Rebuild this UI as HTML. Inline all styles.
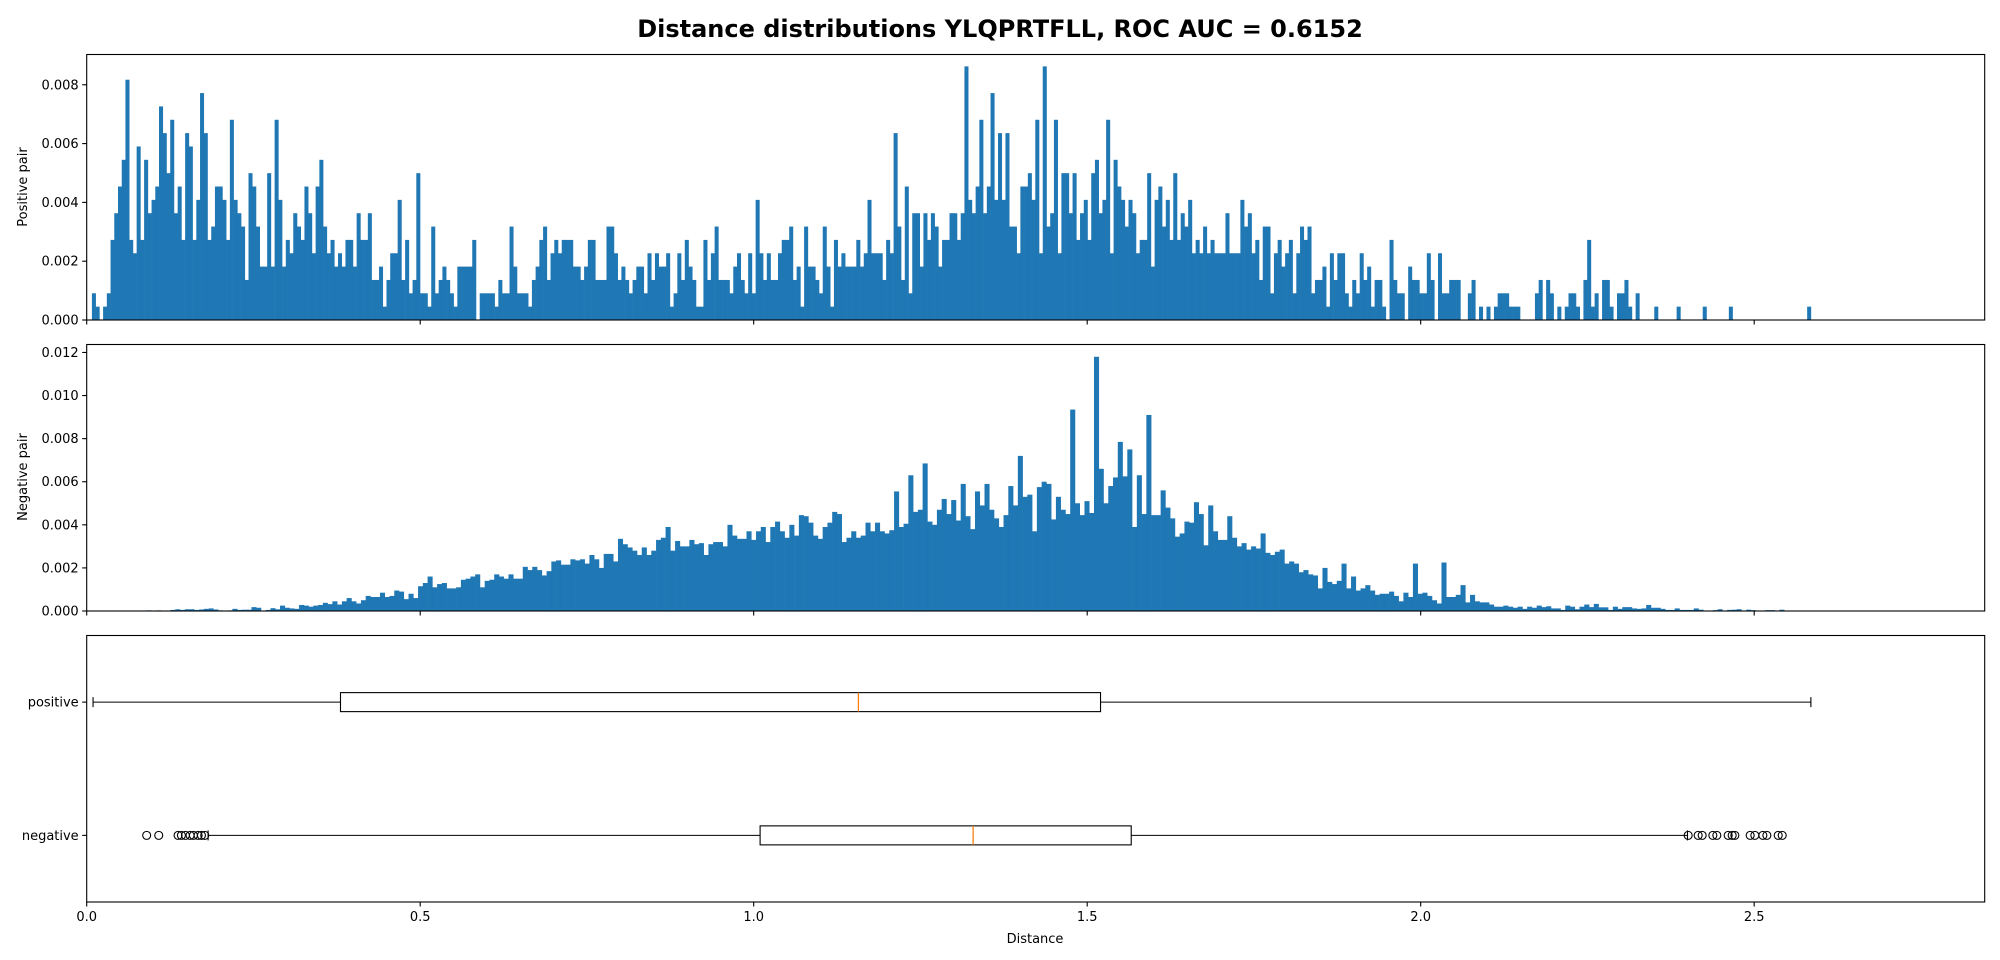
<!DOCTYPE html>
<html><head><meta charset="utf-8">
<style>
html,body{margin:0;padding:0;background:#fff;}
svg{display:block;font-family:"DejaVu Sans","Liberation Sans",sans-serif;}
</style></head>
<body>
<svg id="chart" width="2000" height="960" viewBox="0 0 2000 960" xmlns="http://www.w3.org/2000/svg">
<text x="1000" y="37" text-anchor="middle" font-size="24" font-weight="bold">Distance distributions YLQPRTFLL, ROC AUC = 0.6152</text>
<g id="top"></g>
<g id="mid"></g>
<g id="bot"></g>
<text x="1035" y="943" text-anchor="middle" font-size="13">Distance</text>
<text transform="translate(27,187) rotate(-90)" text-anchor="middle" font-size="13">Positive pair</text>
<text transform="translate(27,477) rotate(-90)" text-anchor="middle" font-size="13">Negative pair</text>
</svg>
<script>
// positive histogram counts (units of one sample density)
const posCounts = [2,1,0,1,2,6,8,10,12,18,6,5,13,6,12,8,9,10,16,14,11,15,8,10,6,14,13,6,9,17,14,6,7,10,10,9,6,15,9,8,7,3,11,10,7,4,4,11,4,15,9,4,6,5,8,7,6,10,8,5,10,12,7,5,6,4,5,4,6,6,4,8,6,6,8,3,3,4,1,3,5,5,9,3,6,2,3,11,2,2,1,7,2,3,4,3,2,1,4,4,4,4,6,0,2,2,2,2,1,3,2,2,7,4,2,2,2,1,3,4,6,7,3,5,6,5,6,6,6,4,4,3,4,6,6,3,3,3,7,7,5,3,4,3,2,3,4,4,2,5,3,5,4,4,5,1,2,5,3,6,4,3,1,1,
6,3,5,7,3,3,3,2,4,5,3,2,5,2,9,5,3,5,3,3,5,6,6,7,3,4,1,7,4,4,3,2,7,4,1,6,4,5,4,4,4,6,4,5,9,5,5,5,3,6,5,14,7,3,10,2,8,8,4,8,6,8,7,4,6,6,8,8,6,8,19,9,8,10,15,8,10,17,9,14,9,14,7,7,5,10,10,11,9,15,5,19,7,8,15,5,11,11,8,11,6,8,9,6,11,12,8,9,15,5,12,10,9,7,9,8,5,6,6,11,4,9,10,7,9,6,11,6,8,7,9,5,6,5,7,5,6,5,5,5,8,5,5,5,9,7,8,5,6,3,7,7,2,5,6,4,5,6,2,5,7,6,
7,2,3,
3,4,1,5,3,5,5,2,1,3,2,5,3,4,1,3,3,1,0,6,3,2,2,0,4,3,3,2,2,5,3,0,5,2,2,3,3,3,0,0,2,3,0,1,0,1,0,1,2,2,2,1,1,1,0,0,0,0,2,3,0,3,2,0,1,0,1,2,2,1,0,3,6,1,2,0,3,3,1,0,2,2,3,1,0,2,
0,0,0,0,1,0,0,0,0,0,1,0,0,0,0,0,0,1,0,0,0,0,0,0,1,0,0,0,0,0,0,0,0,0,0,0,0,0,0,0,0,0,0,0,0,1];
const posUnit = 0.000454;
const posRange = [0.0078, 2.585];
// negative histogram densities (x 0.001)
const negDensity = [0.03,0,0.03,0,0,0.05,0.08,0.05,0.08,0.08,0.05,0.07,0.1,0.12,0.07,0.03,0,0.03,0.1,0.05,0.06,0.06,0.18,0.15,0.02,0.05,0.13,0.08,0.25,0.15,0.12,0.1,0.28,0.25,0.2,0.25,0.28,0.38,0.32,0.45,0.3,0.45,0.6,0.45,0.35,0.5,0.7,0.65,0.65,0.85,0.65,0.7,0.95,0.9,0.55,0.8,0.6,1.15,1.3,1.6,1.1,1.25,1.3,1.05,1.05,1.1,1.45,1.5,1.6,1.7,1.1,1.4,1.45,1.7,1.6,1.5,1.7,1.5,1.5,2.05,1.9,2.05,1.9,1.65,1.85,2.3,2.35,2.15,2.15,2.4,2.35,2.4,2.2,2.6,2.4,2.0,2.65,2.65,2.3,3.35,3.1,2.95,2.8,2.6,2.95,2.6,2.8,3.3,3.4,3.9,2.8,3.25,3.0,3.0,3.3,3.1,3.15,
2.6,3.1,3.2,3.2,3.0,4.0,3.5,3.35,3.35,3.7,3.3,3.7,3.9,3.2,3.9,4.15,3.7,3.4,4.0,3.5,4.45,4.4,4.1,3.5,3.35,3.9,4.1,4.6,4.5,3.2,3.4,3.7,3.4,3.5,4.1,3.7,4.1,3.7,3.6,3.75,5.55,3.9,4.05,6.3,4.6,4.7,6.85,4.15,4.0,4.7,5.2,4.5,5.15,4.2,5.9,4.4,3.8,5.55,4.9,5.9,4.7,4.3,3.9,4.45,5.8,4.9,7.2,5.3,5.4,3.7,5.75,6.0,5.9,4.25,5.3,4.7,4.5,9.35,5.0,4.45,5.1,4.55,11.8,6.6,5.0,5.8,6.2,7.85,6.25,7.5,3.9,6.3,4.5,9.1,4.45,4.45,5.6,4.8,4.3,3.45,3.6,4.15,4.1,5.05,4.5,3.05,4.9,3.7,3.3,3.3,4.4,3.4,3.0,3.15,2.85,3.0,2.9,3.6,2.7,2.6,2.75,2.85,2.2,2.3,2.2,1.8,1.9,1.7,
1.65,1.05,2.0,1.35,1.25,1.4,2.2,1.05,1.6,0.95,1.05,1.2,0.95,0.75,0.8,0.8,0.9,0.7,0.45,0.85,0.65,2.2,0.8,0.85,0.7,0.5,0.35,2.25,0.65,0.65,0.75,1.2,0.4,0.75,0.45,0.4,0.4,0.3,0.2,0.2,0.25,0.2,0.15,0.2,0.1,0.2,0.15,0.25,0.18,0.22,0.12,0.12,0.05,0.25,0.2,0.08,0.2,0.3,0.18,0.33,0.17,0.17,0.05,0.2,0.1,0.18,0.18,0.12,0.1,0.12,0.28,0.15,0.15,0.1,0.05,0.05,0.12,0.05,0.05,0.05,0.12,0.06,0.02,0.02,0.04,0.08,0.02,0.05,0.06,0.08,0,0.06,0.04,0.02,0,0.04,0.04,0,0.06];
const negRange = [0.09, 2.545];
// boxplot stats
const boxLabels = ["positive","negative"];
const boxStats = [
  {lo:0.0095, q1:0.3805, med:1.157, q3:1.520, hi:2.585},
  {lo:0.182, q1:1.0096, med:1.329, q3:1.566, hi:2.400}
];
const negOutliers = [0.0899,0.108,0.137,0.142,0.148,0.155,0.160,0.167,0.172,0.177,2.401,2.416,2.422,2.438,2.444,2.461,2.467,2.471,2.494,2.501,2.513,2.519,2.536,2.542];
const posOutliers = [];
const xTicks = [0,0.5,1.0,1.5,2.0,2.5];
const topTicks = [0,0.002,0.004,0.006,0.008];
const midTicks = [0,0.002,0.004,0.006,0.008,0.010,0.012];

const NS="http://www.w3.org/2000/svg";
const L=86.7, R=1984.7, XMAX=2.8456;
const X = v => L + v/XMAX*(R-L);
function mk(tag, attrs, parent){const e=document.createElementNS(NS,tag);for(const k in attrs)e.setAttribute(k,attrs[k]);parent.appendChild(e);return e;}

function panel(g, top, bottom, ymax, yticks, ydec, showXLabels){
  const Y = v => bottom - v/ymax*(bottom-top);
  xTicks.forEach(t=>{
    const tk=mk('line',{x1:X(t),x2:X(t),y1:bottom,y2:bottom+4.5,stroke:'#000','stroke-width':1.1},g);
    
    
    if(showXLabels){
      const tx=mk('text',{x:X(t),y:bottom+19,'text-anchor':'middle','font-size':13},g);
      tx.textContent=t.toFixed(1);
      
      
    }
  });
  if(yticks) yticks.forEach(t=>{
    const tk=mk('line',{x1:L-4.5,x2:L,y1:Y(t),y2:Y(t),stroke:'#000','stroke-width':1.1},g);
    
    
    const tx=mk('text',{x:L-8,y:Y(t)+4.5,'text-anchor':'end','font-size':13},g);
    tx.textContent=t.toFixed(ydec);
    
    
  });
  return Y;
}
function frame(g,top,bottom){
  const f=mk('rect',{x:L,y:top,width:R-L,height:bottom-top,fill:'none',stroke:'#000','stroke-width':1.1},g);
  
  
}

// top panel
const gT=document.getElementById('top');
const tTop=54.5, tBot=320;
const YT=panel(gT,tTop,tBot,0.00903,topTicks,3,false);
const pw=(posRange[1]-posRange[0])/posCounts.length;
posCounts.forEach((c,i)=>{
  if(!c) return;
  const x0=X(posRange[0]+i*pw), x1=X(posRange[0]+(i+1)*pw);
  const r=mk('rect',{x:x0,y:YT(c*posUnit),width:x1-x0+0.3,height:tBot-YT(c*posUnit),fill:'#1f77b4'},gT);
  
  
});
frame(gT,tTop,tBot);

// middle panel
const gM=document.getElementById('mid');
const mTop=344.5, mBot=611;
const YM=panel(gM,mTop,mBot,0.01237,midTicks,3,false);
const nw=(negRange[1]-negRange[0])/negDensity.length;
negDensity.forEach((v,i)=>{
  if(!v) return;
  const x0=X(negRange[0]+i*nw), x1=X(negRange[0]+(i+1)*nw);
  const val=v*0.001;
  const r=mk('rect',{x:x0,y:YM(val),width:x1-x0+0.3,height:mBot-YM(val),fill:'#1f77b4'},gM);
  
  
});
frame(gM,mTop,mBot);

// bottom boxplot panel
const gB=document.getElementById('bot');
const bTop=635.5, bBot=902;
panel(gB,bTop,bBot,1,null,0,true);
const rowY=[bTop+(bBot-bTop)*0.25, bTop+(bBot-bTop)*0.75];
const bh=19, cap=10;
boxStats.forEach((s,i)=>{
  const y=rowY[i];
  const tk=mk('line',{x1:L-4.5,x2:L,y1:y,y2:y,stroke:'#000','stroke-width':1.1},gB);
  
  
  const lb=mk('text',{x:L-8,y:y+4.5,'text-anchor':'end','font-size':13},gB);
  lb.textContent=boxLabels[i];
  
  
  const w1=mk('line',{x1:X(s.lo),x2:X(s.q1),y1:y,y2:y,stroke:'#000','stroke-width':1.1},gB);
  
  
  const w2=mk('line',{x1:X(s.q3),x2:X(s.hi),y1:y,y2:y,stroke:'#000','stroke-width':1.1},gB);
  
  
  [s.lo,s.hi].forEach(v=>{
    const c=mk('line',{x1:X(v),x2:X(v),y1:y-cap/2,y2:y+cap/2,stroke:'#000','stroke-width':1.1},gB);
    
    
  });
  const b=mk('rect',{x:X(s.q1),y:y-bh/2,width:X(s.q3)-X(s.q1),height:bh,fill:'none',stroke:'#000','stroke-width':1.1},gB);
  
  
  const m=mk('line',{x1:X(s.med),x2:X(s.med),y1:y-bh/2,y2:y+bh/2,stroke:'#ff7f0e','stroke-width':1.3},gB);
  
  
});
negOutliers.forEach(v=>{
  const c=mk('circle',{cx:X(v),cy:rowY[1],r:4,fill:'none',stroke:'#000','stroke-width':1.1},gB);
  
  
});
posOutliers.forEach(v=>{
  const c=mk('circle',{cx:X(v),cy:rowY[0],r:4,fill:'none',stroke:'#000','stroke-width':1.1},gB);
  
  
});
frame(gB,bTop,bBot);
</script>
</body></html>
